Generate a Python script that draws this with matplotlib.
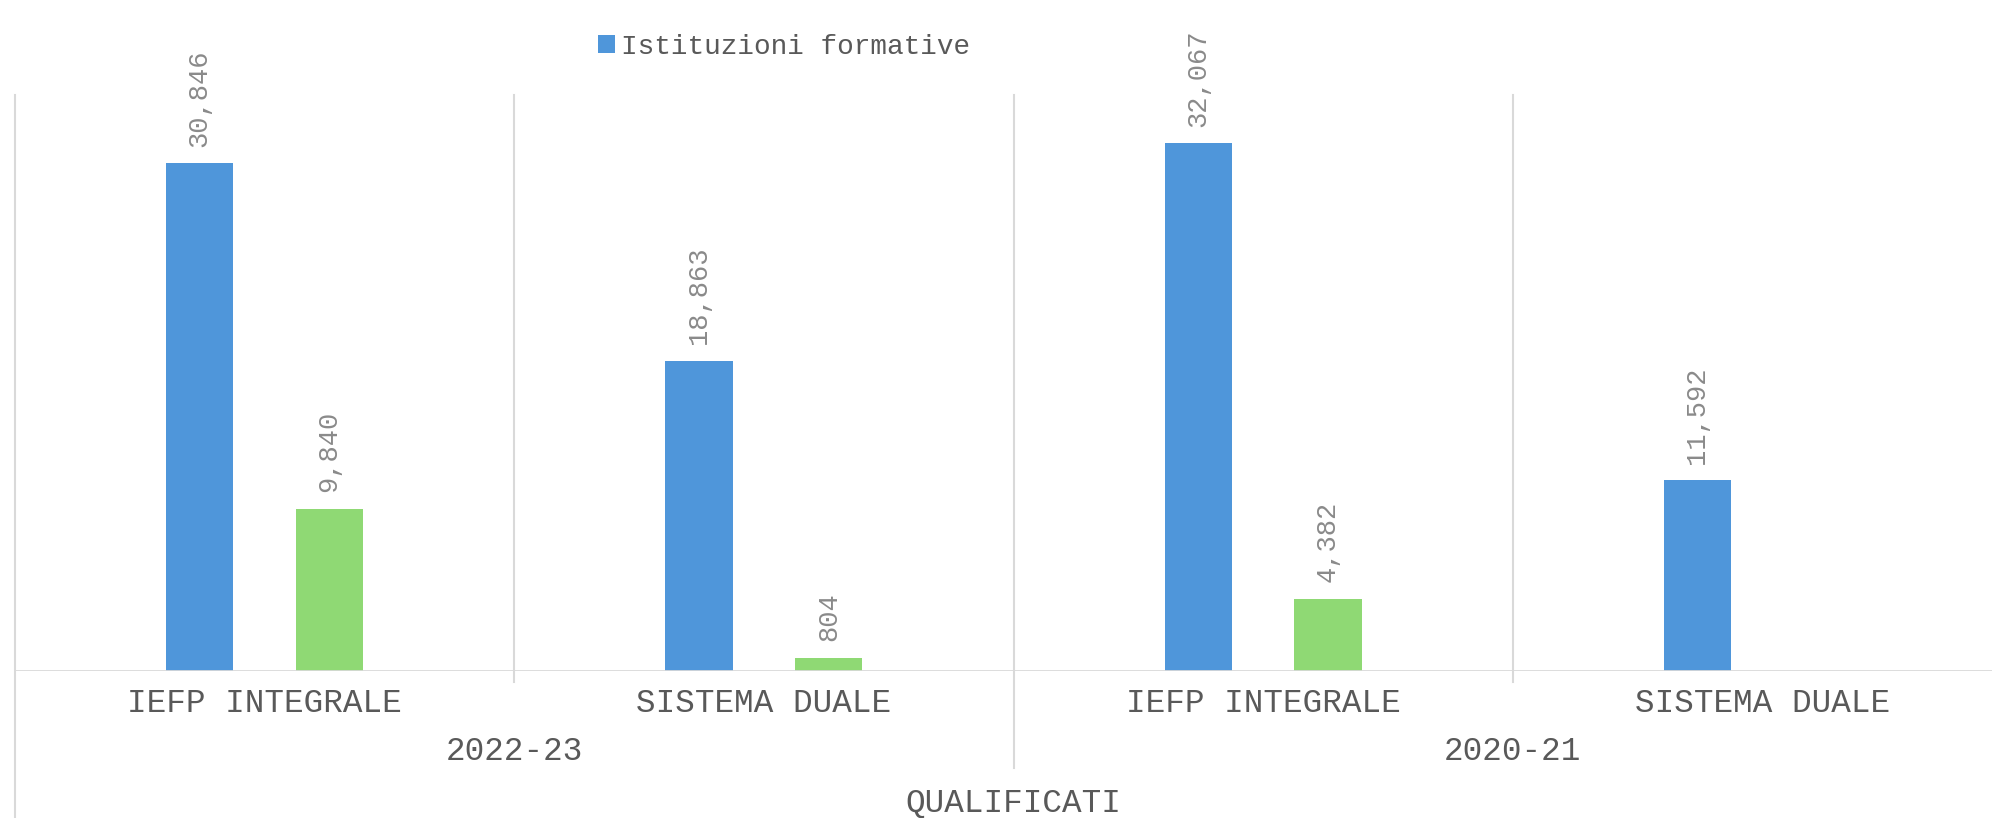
import matplotlib

matplotlib.use("Agg")
import matplotlib.pyplot as plt
import matplotlib.transforms as mtransforms
import numpy as np

# data
groups = ["2022-23", "2020-21"]
categories = ["IEFP INTEGRALE", "SISTEMA DUALE", "IEFP INTEGRALE", "SISTEMA DUALE"]
istituzioni = [30846, 18863, 32067, 11592]
altro = [9840, 804, 4382, np.nan]
series_label = "Istituzioni formative"
outer_label = "QUALIFICATI"

BLUE = "#4f96da"
GREEN = "#8fd974"
GRID = "#d9d9d9"
TEXT = "#595959"
LABEL = "#8a8a8a"
FONT = "Liberation Mono"

W, H = 1992, 818
fig = plt.figure(figsize=(W / 100, H / 100), dpi=100)
left, right, top, base = 15, 2012, 95, 671
ax = fig.add_axes([left / W, 1 - base / H, (right - left) / W, (base - top) / H])

x = np.arange(len(categories))
offset = 0.13
width = 0.135
b1 = ax.bar(x - offset, istituzioni, width=width, color=BLUE, label=series_label)
ax.bar(x + offset, altro, width=width, color=GREEN)

for xi, v in zip(x - offset, istituzioni):
    ax.annotate(f"{v:,}", (xi, v), xytext=(0, 12), textcoords="offset points",
                rotation=90, ha="center", va="bottom", color=LABEL, fontsize=19.5, family=FONT)
for xi, v in zip(x + offset, altro):
    if np.isnan(v):
        continue
    ax.annotate(f"{int(v):,}", (xi, v), xytext=(0, 12), textcoords="offset points",
                rotation=90, ha="center", va="bottom", color=LABEL, fontsize=19.5, family=FONT)

ax.set_xlim(-0.5, len(categories) - 0.5)
ax.set_ylim(0, 35000)
for s in ax.spines.values():
    s.set_visible(False)
ax.set_xticks([])
ax.set_yticks([])
ax.axhline(0, color=GRID, linewidth=2, zorder=3)

trans = mtransforms.blended_transform_factory(ax.transData, ax.transAxes)
axh = base - top
# separators between categories and groups
for xs, bottom in [(-0.5, -(H - base) / axh), (1.5, -(768 - base) / axh),
                   (0.5, -11 / axh), (2.5, -11 / axh)]:
    ax.plot([xs, xs], [1, bottom], color=GRID, linewidth=1.5, transform=trans, clip_on=False)

for xi, c in zip(x, categories):
    ax.text(xi, -(703 - base) / axh, c, transform=trans, ha="center", va="center",
            color=TEXT, fontsize=23.5, family=FONT)
for gi, g in enumerate(groups):
    ax.text(gi * 2 + 0.5, -(752 - base) / axh, g, transform=trans, ha="center", va="center",
            color=TEXT, fontsize=23.5, family=FONT)
fig.text((left + right) / 2 / W, 1 - 803 / H, outer_label, ha="center", va="center",
         color=TEXT, fontsize=23.5, family=FONT)

fig.legend(handles=[b1], labels=[series_label], loc="center", bbox_to_anchor=(784 / W, 1 - 47 / H),
           frameon=False, handlelength=0.6, handleheight=0.6, handletextpad=0.2,
           prop={"family": FONT, "size": 20}, labelcolor=TEXT)

fig.savefig("out.png", dpi=100)
